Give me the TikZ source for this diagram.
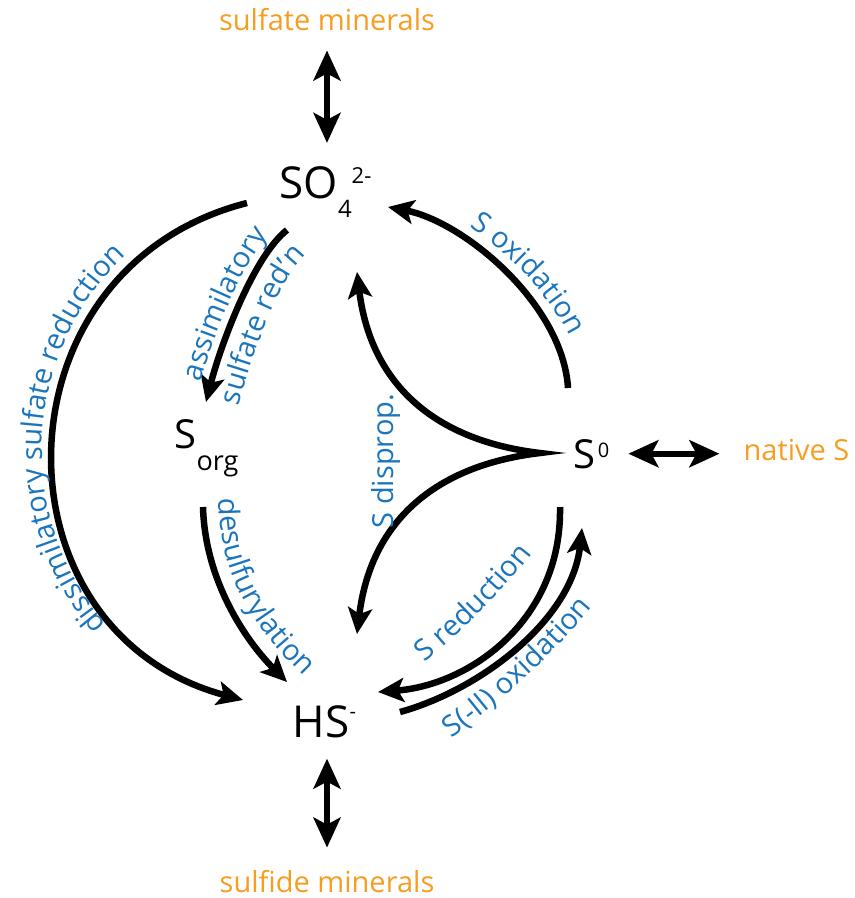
\documentclass[tikz,border=0pt]{standalone}
\usepackage{fontspec}
\setmainfont{Open Sans}
\usetikzlibrary{arrows.meta, decorations.text}
\definecolor{rxnblue}{RGB}{27,117,188}
\definecolor{mineralorange}{RGB}{247,157,33}
\newcommand{\rxnfont}{\fontsize{29}{34}\selectfont\color{rxnblue}}

\begin{document}
\begin{tikzpicture}[
  x=1pt, y=-1pt,
  species/.style={inner sep=0pt, anchor=base, font=\fontsize{44}{50}\selectfont},
  mineral/.style={inner sep=0pt, anchor=base, text=mineralorange, font=\fontsize{29}{34}\selectfont},
  rxn/.style={-{Stealth[length=26pt, width=24pt, inset=6pt]}, line width=6.5pt},
  rxnboth/.style={arrows={Stealth[length=26pt, width=24pt, inset=6pt]-Stealth[length=26pt, width=24pt, inset=6pt]}, line width=6.5pt},
  dbl/.style={arrows={Stealth[length=30pt, width=27pt, inset=7pt]-Stealth[length=30pt, width=27pt, inset=7pt]}, line width=6pt},
  rxnlabel/.style={decorate, decoration={text along path, text align=center, text={|\rxnfont|#1}}},
]
\useasboundingbox (0,0) rectangle (855,898);

% --- Species ---
\node[species] (so4) at (325.5,198) {SO\raisebox{-19pt}{\fontsize{24}{24}\selectfont 4}\raisebox{15pt}{\fontsize{22}{22}\selectfont 2-}};
\node[species, font=\fontsize{40}{46}\selectfont] (sorg) at (206.5,448) {S\raisebox{-22pt}{\fontsize{27}{27}\selectfont org}};
\node[species, font=\fontsize{40}{46}\selectfont] (szero) at (591.5,468) {S\kern2pt\raisebox{11pt}{\fontsize{20}{20}\selectfont 0}};
\node[species] (hs) at (324.5,737) {HS\raisebox{19pt}{\fontsize{20}{20}\selectfont -}};

% --- Mineral pools ---
\node[mineral] (sulfatemin) at (327,30) {sulfate minerals};
\node[mineral] (sulfidemin) at (327,892) {sulfide minerals};
\node[mineral] (natives) at (796.5,460) {native S};

% --- Exchange with minerals ---
\draw[dbl, shorten <=20pt, shorten >=23pt] (sulfatemin.south) -- (sulfatemin.south |- so4.north);
\draw[dbl, shorten <=21pt, shorten >=22pt] (sulfidemin.north |- hs.south) -- (sulfidemin.north);
\draw[dbl, shorten <=19pt, shorten >=24pt] (szero.east) -- (szero.east -| natives.west);

% --- Reactions ---
\draw[rxn] ([shift={(-78.5,5)}]so4.base) .. controls +(-256,65) and +(-255,-68) .. ([shift={(-81.5,-37)}]hs.base);
\draw[rxn] ([shift={(-38.5,32)}]so4.base) .. controls +(-32,25) and +(16,-62) .. ([shift={(-0.5,-46)}]sorg.base);
\draw[rxn] ([shift={(-3.5,59)}]sorg.base) .. controls +(2,73) and +(-42,-42) .. ([shift={(-37.5,-55)}]hs.base);
\draw[rxnboth] ([shift={(31.5,74)}]so4.base) .. controls +(13,108) and +(-110,-13) .. ([shift={(-51.5,-15)}]szero.base)
  .. controls +(-110,13) and +(13,-108) .. ([shift={(32.5,-103)}]hs.base);
\draw[rxn] ([shift={(-23.5,-80)}]szero.base) .. controls +(-5,-83) and +(77,15) .. ([shift={(62.5,9)}]so4.base);
\draw[rxn] ([shift={(-31.5,39)}]szero.base) .. controls +(2,113) and +(92,-7) .. ([shift={(53.5,-45)}]hs.base);
\draw[rxn] ([shift={(75.5,-25)}]hs.base) .. controls +(80,-22) and +(-10,92) .. ([shift={(-9.5,60)}]szero.base);

% --- Reaction labels ---
\path[rxnlabel={dissimilatory sulfate reduction}] (145,661.2) .. controls (-1.6,546.7) and (10.3,321.3) .. (168,222.7);
\path[rxnlabel={assimilatory}] (190.1,423.7) -- (196.3,399.5) .. controls (212.5,336) and (248,248) .. (280.8,222.1) -- (300.4,206.6);
\path[rxnlabel={sulfate red'n}] (230.6,438) -- (238.1,409.3) .. controls (254,348) and (281,275) .. (308.9,252.9) -- (332.3,234.3);
\path[rxnlabel={desulfurylation}] (218.3,481.6) -- (219,506.6) .. controls (221,579.6) and (256.3,628.7) .. (298.3,670.7) -- (316,688.4);
\path[rxnlabel={S oxidation}] (391.1,191.3) .. controls (468.1,206.3) and (579,304) .. (584,387) -- (585.5,420);
\path[rxnlabel={S reduction}] (413.9,670.2) .. controls (461.8,633.2) and (503.6,591.1) .. (540.1,542.9);
\path[rxnlabel={S(-II) oxidation}] (438,747.6) .. controls (500.2,704.3) and (555.4,653.1) .. (603,594.2);
\node[inner sep=0pt, rotate=90, text=rxnblue, font=\fontsize{29}{34}\selectfont] (disproplbl) at (386,461) {S disprop.};

\end{tikzpicture}
\end{document}
